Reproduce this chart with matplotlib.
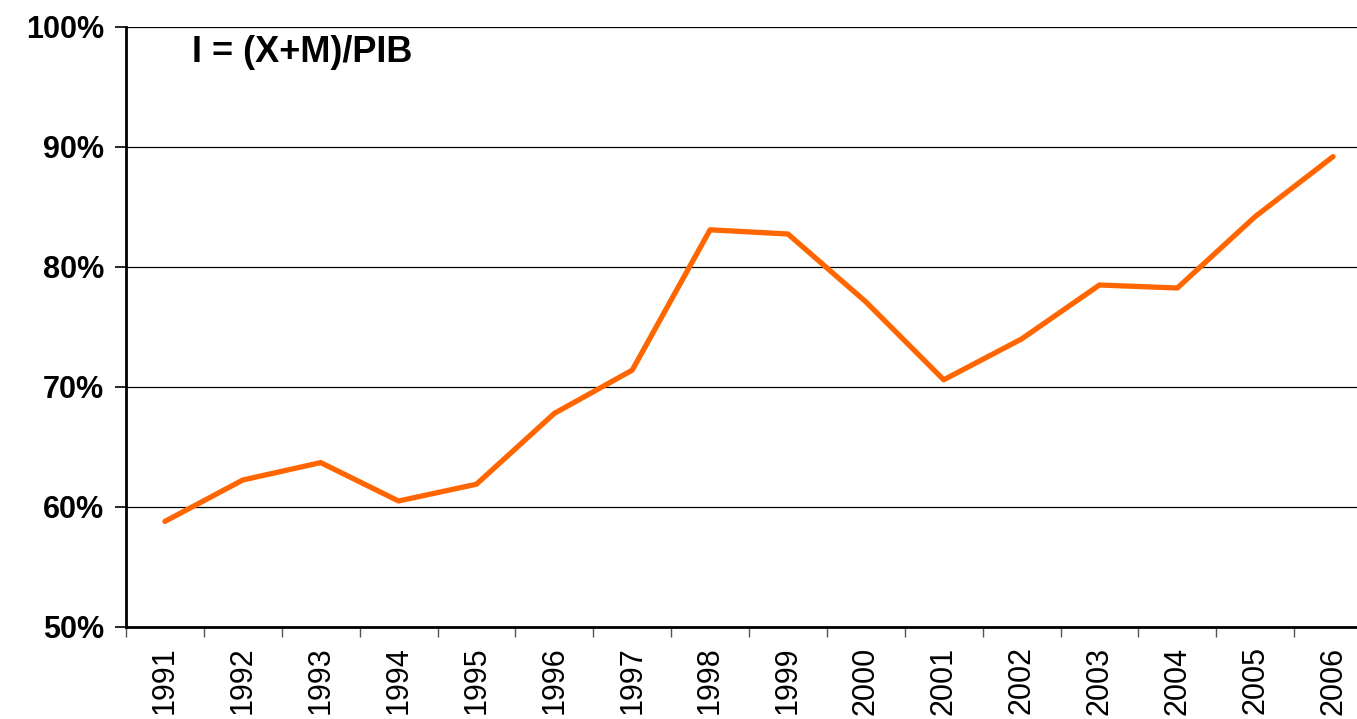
import matplotlib

matplotlib.use("Agg")
import matplotlib.pyplot as plt
from matplotlib.ticker import FixedLocator, PercentFormatter

years = [str(y) for y in range(1991, 2007)]
openness = [58.8, 62.25, 63.7, 60.5, 61.9, 67.8, 71.4, 83.1,
            82.75, 77.1, 70.6, 74.0, 78.5, 78.25, 84.2, 89.2]
y_ticks = [50, 60, 70, 80, 90, 100]
label = "I = (X+M)/PIB"

plt.rcParams["font.family"] = ["Liberation Sans", "DejaVu Sans"]

W, H = 1357, 719
fig = plt.figure(figsize=(W / 100, H / 100), dpi=100)
# axis runs past the right edge of the picture, as in the reference
ax_w = 1372 - 126
ax = fig.add_axes([126 / W, 92 / H, ax_w / W, 600 / H])

x = list(range(len(years)))
ax.plot(x, openness, color="#FF6600", lw=3.8, solid_capstyle="round", zorder=3)

ax.set_xlim(-0.5, len(years) - 0.5)
ax.set_ylim(50, 100)
ax.yaxis.set_major_locator(FixedLocator(y_ticks))
ax.yaxis.set_major_formatter(PercentFormatter(decimals=0))
ax.grid(axis="y", color="black", lw=0.9)
ax.set_axisbelow(True)

ax.set_xticks(x)
ax.set_xticklabels(years, rotation=90, fontsize=22)
ax.set_xticks([i - 0.5 for i in x], minor=True)
ax.tick_params(axis="x", which="major", length=0, pad=14)
ax.tick_params(axis="x", which="minor", length=7, width=1, color="#555555")
ax.tick_params(axis="y", length=8, width=1.2, pad=8)
for t in ax.get_yticklabels():
    t.set_fontsize(22)
    t.set_fontweight("bold")

for side in ("top", "right"):
    ax.spines[side].set_visible(False)
for side in ("left", "bottom"):
    ax.spines[side].set_linewidth(2)

ax.text((192 - 126) / ax_w, 1 - (52 - 27) / 600, label, transform=ax.transAxes,
        fontsize=26, fontweight="bold", va="center", ha="left")

fig.savefig("out.png", dpi=100, facecolor="white")
